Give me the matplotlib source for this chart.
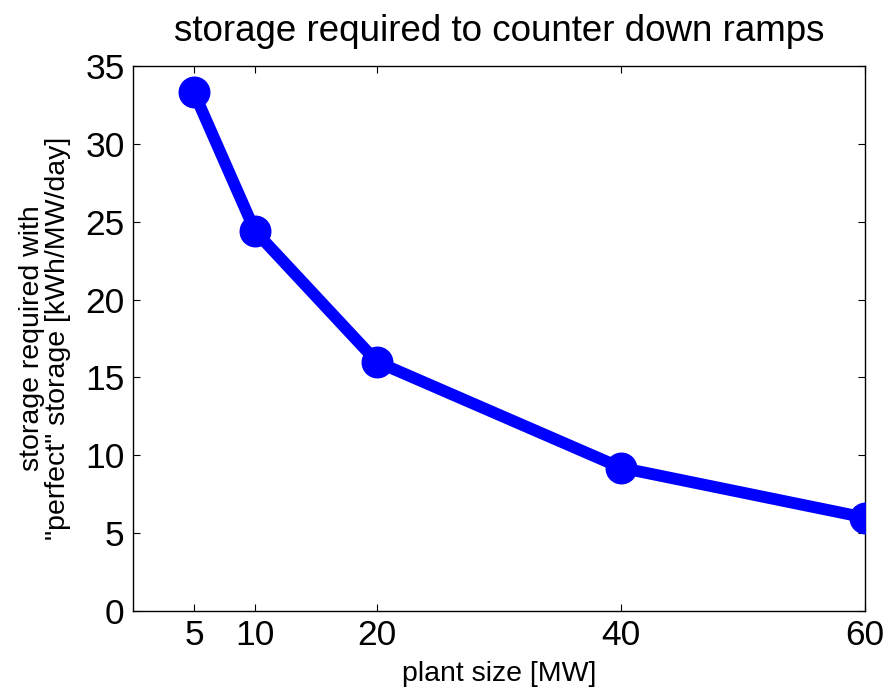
import matplotlib
matplotlib.use('Agg')
import matplotlib.pyplot as plt

plant_size = [5, 10, 20, 40, 60]
storage = [33.3, 24.4, 16.0, 9.2, 6.0]
x_ticks = [5, 10, 20, 40, 60]
y_ticks = [0, 5, 10, 15, 20, 25, 30, 35]

plt.rcParams['font.family'] = ['Liberation Sans', 'DejaVu Sans']

fig = plt.figure(figsize=(8.85, 6.9), dpi=100)
ax = fig.add_axes([133 / 885, 1 - 611 / 690, (865 - 133) / 885, (611 - 66) / 690])

ax.plot(plant_size, storage, '-o', color='#0000ff', lw=8.5, ms=22, zorder=3)

ax.set_xlim(0, 60)
ax.set_ylim(0, 35)
ax.set_xticks(x_ticks)
ax.set_yticks(y_ticks)
ax.tick_params(direction='in', length=5, width=0.8, labelsize=25.5,
               top=True, right=True, pad=6)
for s in ax.spines.values():
    s.set_linewidth(1.0)

ax.set_title('storage required to counter down ramps', fontsize=26.5, pad=18)
ax.set_xlabel('plant size [MW]', fontsize=20.5, labelpad=6)
ax.set_ylabel('storage required with\n"perfect" storage [kWh/MW/day]',
              fontsize=20.5, labelpad=10, linespacing=1.0)

fig.savefig('out.png', dpi=100)
